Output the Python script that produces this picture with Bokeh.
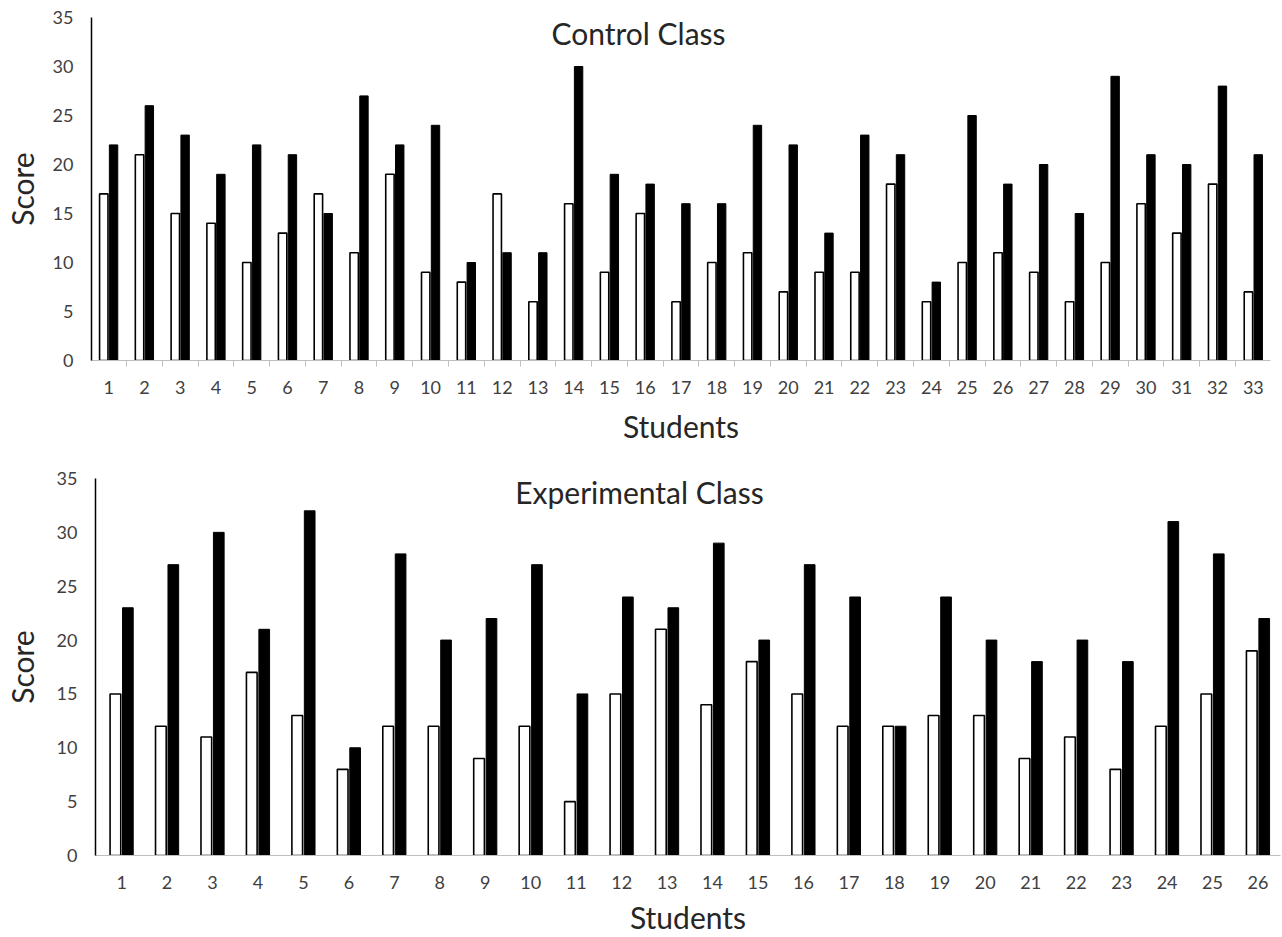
import numpy as np
from bokeh.plotting import figure
from bokeh.models import Range1d, FixedTicker, Label
from bokeh.embed import file_html
from bokeh.resources import INLINE

# ---- data ----
control_students = list(range(1, 34))
control_pre = [17, 21, 15, 14, 10, 13, 17, 11, 19, 9, 8, 17, 6, 16, 9, 15, 6,
               10, 11, 7, 9, 9, 18, 6, 10, 11, 9, 6, 10, 16, 13, 18, 7]
control_post = [22, 26, 23, 19, 22, 21, 15, 27, 22, 24, 10, 11, 11, 30, 19, 18, 16,
                16, 24, 22, 13, 23, 21, 8, 25, 18, 20, 15, 29, 21, 20, 28, 21]
exp_students = list(range(1, 27))
exp_pre = [15, 12, 11, 17, 13, 8, 12, 12, 9, 12, 5, 15, 21, 14, 18, 15, 12,
           12, 13, 13, 9, 11, 8, 12, 15, 19]
exp_post = [23, 27, 30, 21, 32, 10, 28, 20, 22, 27, 15, 24, 23, 29, 20, 27, 24,
            12, 24, 20, 18, 20, 18, 31, 28, 22]
score_ticks = [0, 5, 10, 15, 20, 25, 30, 35]

FONT = "Lato"
TICK_COLOR = "#404040"
TEXT_COLOR = "#262626"


def make_panel(title, students, pre, post, x_start, x_end, height,
               b_left, b_right, b_top, b_bottom, title_xy,
               boundary_ticks, x_standoff, xlab_standoff, ylab_standoff):
    p = figure(width=1282, height=height, output_backend="svg",
               toolbar_location=None, x_range=Range1d(x_start, x_end),
               y_range=Range1d(0, 35), min_border_left=b_left,
               min_border_right=b_right, min_border_top=b_top,
               min_border_bottom=b_bottom)
    p.outline_line_color = None
    p.xgrid.visible = False
    p.ygrid.visible = False
    p.background_fill_color = "white"
    p.border_fill_color = "white"

    xs = np.array(students, dtype=float)
    off = 0.137
    p.vbar(x=xs - off, top=pre, width=0.235, bottom=0,
           fill_color="white", line_color="black", line_width=1.6)
    p.vbar(x=xs + off, top=post, width=0.235, bottom=0,
           fill_color="black", line_color="black", line_width=1)

    # y axis
    ya = p.yaxis[0]
    ya.ticker = FixedTicker(ticks=score_ticks)
    ya.major_tick_line_color = None
    ya.minor_tick_line_color = None
    ya.major_tick_out = 0
    ya.major_tick_in = 0
    ya.axis_line_color = "black"
    ya.axis_line_width = 1.5
    ya.major_label_text_font = FONT
    ya.major_label_text_font_size = "18px"
    ya.major_label_text_color = TICK_COLOR
    ya.major_label_standoff = 18
    ya.axis_label = "Score"
    ya.axis_label_text_font = FONT
    ya.axis_label_text_font_size = "30px"
    ya.axis_label_text_font_style = "normal"
    ya.axis_label_text_color = TEXT_COLOR
    ya.axis_label_standoff = ylab_standoff

    # x axis
    xa = p.xaxis[0]
    if boundary_ticks:
        bounds = [s - 0.5 for s in students] + [students[-1] + 0.5]
        xa.ticker = FixedTicker(ticks=list(students), minor_ticks=bounds)
        xa.minor_tick_line_color = "#bfbfbf"
        xa.minor_tick_out = 6
        xa.minor_tick_in = 0
    else:
        xa.ticker = FixedTicker(ticks=list(students))
        xa.minor_tick_line_color = None
    xa.major_tick_line_color = None
    xa.major_tick_out = 0
    xa.major_tick_in = 0
    xa.axis_line_color = "#bfbfbf"
    xa.axis_line_width = 1.2
    xa.major_label_text_font = FONT
    xa.major_label_text_font_size = "18px"
    xa.major_label_text_color = TICK_COLOR
    xa.major_label_standoff = x_standoff
    xa.axis_label = "Students"
    xa.axis_label_text_font = FONT
    xa.axis_label_text_font_size = "30px"
    xa.axis_label_text_font_style = "normal"
    xa.axis_label_text_color = TEXT_COLOR
    xa.axis_label_standoff = xlab_standoff

    # chart title drawn inside the frame (screen units relative to the frame)
    p.add_layout(Label(x=title_xy[0], y=title_xy[1], x_units="screen", y_units="screen",
                       text=title, text_font=FONT, text_font_size="30px",
                       text_color=TEXT_COLOR, text_align="center",
                       text_baseline="middle"))
    return p


# top panel: frame 89..1270 x 17..360 ; bottom panel frame 93..1280 x 478..855
p1 = make_panel("Control Class", control_students, control_pre, control_post,
                0.52, 33.48, 468, 89, 12, 17, 108,
                (547, 328), True, 14, 11, 10)
p2 = make_panel("Experimental Class", exp_students, exp_pre, exp_post,
                0.425, 26.495, 469, 93, 2, 10, 82,
                (544, 364), False, 20, 7, 14)

open("out.html", "w").write(file_html([p1, p2], INLINE))
